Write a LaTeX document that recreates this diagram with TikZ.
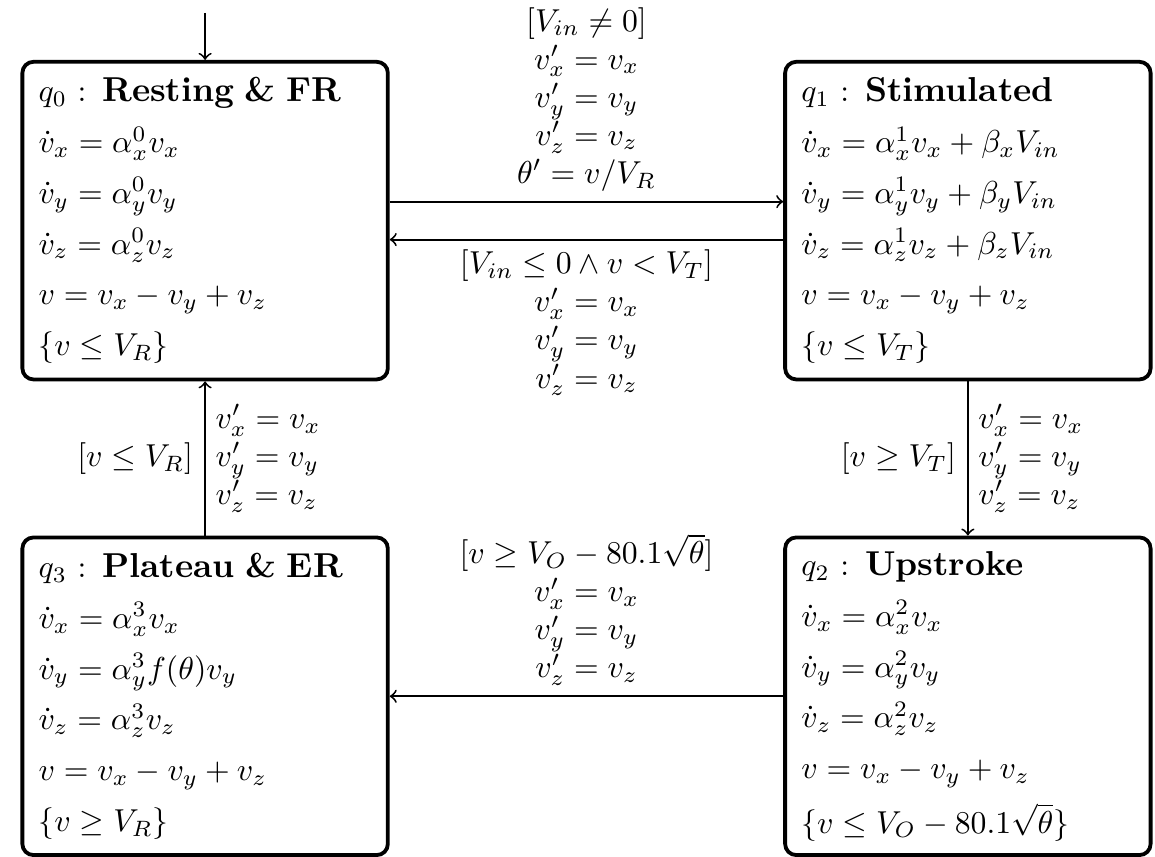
\documentclass[tikz,border=0pt]{standalone}
\usepackage{amsmath,amssymb}
\newcommand{\locname}[1]{{\fontsize{10.9pt}{13pt}\selectfont\bfseries #1}}
\begin{document}
\begin{tikzpicture}[x=1cm,y=1cm,>=to,
  locbox/.style={draw,very thick,rounded corners=3.5pt,minimum width=4.05cm,minimum height=3.52cm,
    text width=3.69cm,inner xsep=5pt,align=left},
  trans/.style={->,semithick},
  guard/.style={align=center,inner sep=3pt}]
  \useasboundingbox (0,0) rectangle (12.80,9.49);
  % locations
  \node[locbox] (q0) at (2.273,7.045) {$q_0$ : \locname{Resting \& FR}\\[4pt]
    $\dot{v}_x = \alpha_x^0 v_x$\\[4pt]
    $\dot{v}_y = \alpha_y^0 v_y$\\[4pt]
    $\dot{v}_z = \alpha_z^0 v_z$\\[4pt]
    $v = v_x - v_y + v_z$\\[4pt]
    $\{v \le V_R\}$};
  \node[locbox] (q1) at (10.726,7.045) {$q_1$ : \locname{Stimulated}\\[4pt]
    $\dot{v}_x = \alpha_x^1 v_x + \beta_x V_{in}$\\[4pt]
    $\dot{v}_y = \alpha_y^1 v_y + \beta_y V_{in}$\\[4pt]
    $\dot{v}_z = \alpha_z^1 v_z + \beta_z V_{in}$\\[4pt]
    $v = v_x - v_y + v_z$\\[4pt]
    $\{v \le V_T\}$};
  \node[locbox] (q2) at (10.726,1.774) {$q_2$ : \locname{Upstroke}\\[4pt]
    $\dot{v}_x = \alpha_x^2 v_x$\\[4pt]
    $\dot{v}_y = \alpha_y^2 v_y$\\[4pt]
    $\dot{v}_z = \alpha_z^2 v_z$\\[4pt]
    $v = v_x - v_y + v_z$\\[4pt]
    $\{v \le V_O - 80.1\sqrt{\theta}\}$};
  \node[locbox] (q3) at (2.273,1.774) {$q_3$ : \locname{Plateau \& ER}\\[4pt]
    $\dot{v}_x = \alpha_x^3 v_x$\\[4pt]
    $\dot{v}_y = \alpha_y^3 f(\theta) v_y$\\[4pt]
    $\dot{v}_z = \alpha_z^3 v_z$\\[4pt]
    $v = v_x - v_y + v_z$\\[4pt]
    $\{v \ge V_R\}$};
  % initial arrow
  \coordinate (init) at (2.273,9.346);
  \draw[trans] (init) -- (q0);
  % transitions
  \draw[trans] ([yshift=0.21cm]q0.east) -- ([yshift=0.21cm]q1.west)
    node[midway,above,guard] (g01) {$[V_{in} \neq 0]$\\$v_x' = v_x$\\$v_y' = v_y$\\$v_z' = v_z$\\$\theta' = v/V_R$};
  \draw[trans] ([yshift=-0.21cm]q1.west) -- ([yshift=-0.21cm]q0.east)
    node[midway,below,guard] (g10) {$[V_{in} \le 0 \wedge v < V_T]$\\$v_x' = v_x$\\$v_y' = v_y$\\$v_z' = v_z$};
  \draw[trans] (q1) -- (q2)
    node[midway,left,inner sep=3.5pt] (g12) {$[v \ge V_T]$}
    node[midway,right,align=left,inner sep=3pt] (r12) {$v_x' = v_x$\\$v_y' = v_y$\\$v_z' = v_z$};
  \draw[trans] (q2) -- (q3)
    node[midway,above,guard] (g23) {$[v \ge V_O - 80.1\sqrt{\theta}]$\\$v_x' = v_x$\\$v_y' = v_y$\\$v_z' = v_z$};
  \draw[trans] (q3) -- (q0)
    node[midway,left,inner sep=3.5pt] (g30) {$[v \le V_R]$}
    node[midway,right,align=left,inner sep=3pt] (r30) {$v_x' = v_x$\\$v_y' = v_y$\\$v_z' = v_z$};
\end{tikzpicture}
\end{document}
